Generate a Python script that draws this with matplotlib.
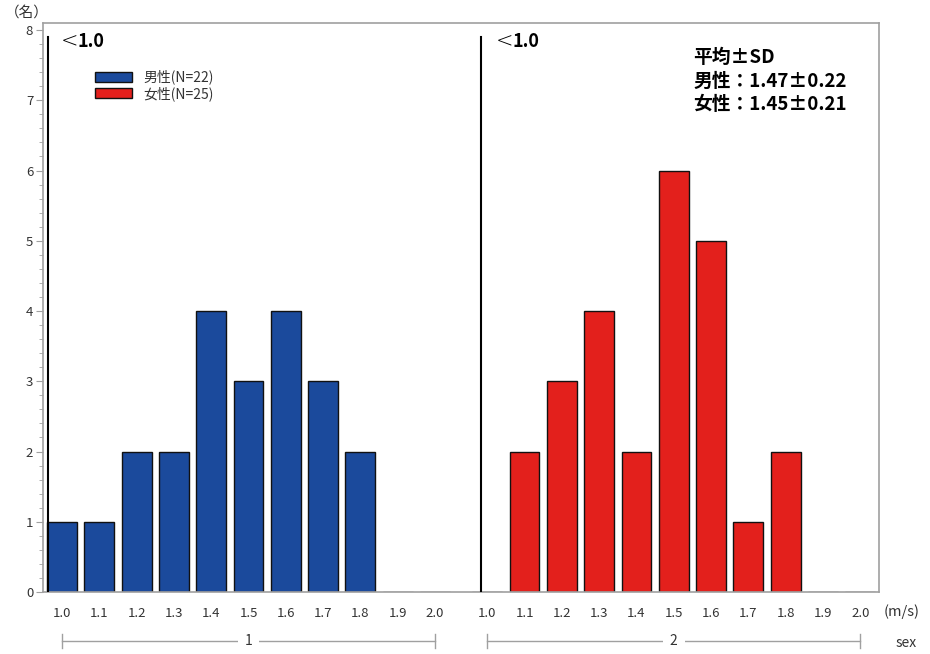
import matplotlib.pyplot as plt
import matplotlib.transforms as mtransforms
import numpy as np

plt.rcParams['font.family'] = ['Noto Sans CJK JP', 'DejaVu Sans']

bins = ['1.0', '1.1', '1.2', '1.3', '1.4', '1.5', '1.6', '1.7', '1.8', '1.9', '2.0']
male = [1, 1, 2, 2, 4, 3, 4, 3, 2, 0, 0]
female = [0, 2, 3, 4, 2, 6, 5, 1, 2, 0, 0]
group_names = ['1', '2']
legend_labels = ['男性(N=22)', '女性(N=25)']
stats_lines = ['平均±SD', '男性：1.47±0.22', '女性：1.45±0.21']

blue = '#1b4a9c'
red = '#e3201c'
gray = '#a0a0a0'
offset = 11.4  # start of the second group on the x axis

fig = plt.figure(figsize=(9.3, 6.54), dpi=100)
ax = fig.add_axes([0.0462, 0.0948, 0.8989, 0.870])

x1 = np.arange(len(bins))
x2 = x1 + offset
b1 = ax.bar(x1, male, width=0.8, color=blue, edgecolor='#111111', linewidth=1.0, zorder=2)
b2 = ax.bar(x2, female, width=0.8, color=red, edgecolor='#111111', linewidth=1.0, zorder=2)

# "<1.0" divider lines
for xl in [-0.375, offset - 0.17]:
    ax.plot([xl, xl], [0, 7.9], color='black', lw=1.5, zorder=3)
for xs in [-0.02, offset + 0.24]:
    ax.text(xs, 7.84, '<', fontsize=15, va='center', ha='left', family='DejaVu Sans',
            fontweight='light')
    ax.text(xs + 0.43, 7.84, '1.0', fontsize=13, va='center', ha='left', fontweight='bold')

ax.set_xlim(-0.51, 21.9)
ax.set_ylim(0, 8.1)
ax.set_xticks(np.concatenate([x1, x2]))
ax.set_xticklabels(bins + bins, fontsize=9.5, color='#333333')
ax.tick_params(axis='x', length=0, pad=11)
ax.set_yticks(range(9))
ax.set_yticks(np.arange(0, 8.01, 0.2), minor=True)
ax.tick_params(axis='y', which='major', length=5, color=gray, labelsize=9.5,
               labelcolor='#333333', pad=2)
ax.tick_params(axis='y', which='minor', length=3, color=gray)
for s in ax.spines.values():
    s.set_color(gray)
    s.set_linewidth(1.2)

# group brackets under the axis
trans = mtransforms.blended_transform_factory(ax.transData, ax.transAxes)
yb = -0.086
for start, name in zip([0, offset], group_names):
    a, b = start, start + 10
    ax.plot([a, b], [yb, yb], color=gray, lw=1, transform=trans, clip_on=False)
    for e in (a, b):
        ax.plot([e, e], [yb - 0.012, yb + 0.012], color=gray, lw=1,
                transform=trans, clip_on=False)
    ax.text((a + b) / 2, yb, name, transform=trans, ha='center', va='center',
            fontsize=10, color='#333333',
            bbox=dict(facecolor='white', edgecolor='none', pad=5))

fig.text(896 / 930, 1 - 643 / 654, 'sex', fontsize=10, color='#333333', ha='left', va='center')
fig.text(884 / 930, 1 - 612 / 654, '(m/s)', fontsize=10.5, color='#333333', ha='left', va='center')
fig.text(5 / 930, 1 - 13 / 654, '（名）', fontsize=10.5, color='#333333', ha='left', va='center')

ax.legend([b1, b2], legend_labels, loc='upper left', bbox_to_anchor=(0.062, 0.918),
          frameon=False, fontsize=10, handlelength=2.7, handleheight=0.75,
          handletextpad=0.8, labelspacing=0.12, borderpad=0, borderaxespad=0,
          labelcolor='#333333')

for i, line in enumerate(stats_lines):
    fig.text(693 / 930, 1 - (57 + 24 * i) / 654, line, fontsize=13.5, fontweight='bold',
             ha='left', va='center')

fig.savefig('out.png', dpi=100)
